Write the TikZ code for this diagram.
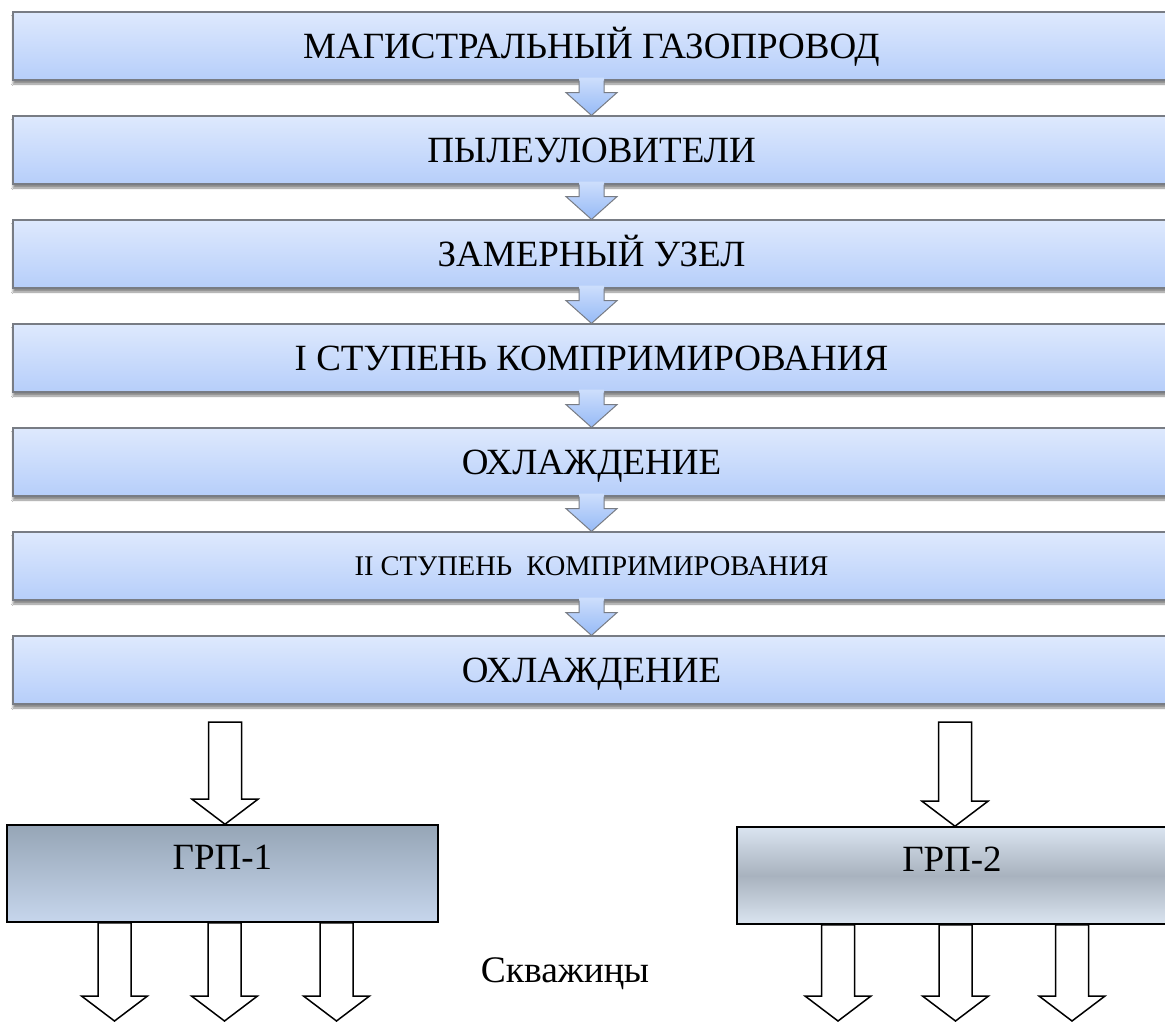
\documentclass[tikz,border=0pt]{standalone}
\usepackage{fontspec}
\setmainfont{Liberation Serif}
\usepackage{xcolor}
\usetikzlibrary{calc,shadows.blur}

\definecolor{stageTop}{RGB}{222,233,253}
\definecolor{stageBot}{RGB}{182,206,250}
\definecolor{stageLine}{RGB}{120,124,132}
\definecolor{arrowTop}{RGB}{205,222,252}
\definecolor{arrowBot}{RGB}{150,186,246}
\definecolor{grpDark}{RGB}{150,165,182}
\definecolor{grpLight}{RGB}{198,214,236}
\definecolor{metalLight}{RGB}{218,228,240}
\definecolor{metalDark}{RGB}{168,178,190}

\newcommand{\stagearrow}[2]{%
\path[arrowfill] let \p1=(#1.south), \p2=(#2.north) in
  (\x1-12.5pt,\y1+3pt) -- (\x1-12.5pt,\y1-12pt) -- (\x1-25.5pt,\y1-12pt) -- (\x2,\y2)
  -- (\x1+25.5pt,\y1-12pt) -- (\x1+12.5pt,\y1-12pt) -- (\x1+12.5pt,\y1+3pt) -- cycle;
\draw[arrowline] let \p1=(#1.south), \p2=(#2.north) in
  (\x1-12.5pt,\y1) -- (\x1-12.5pt,\y1-12pt) -- (\x1-25.5pt,\y1-12pt) -- (\x2,\y2)
  -- (\x1+25.5pt,\y1-12pt) -- (\x1+12.5pt,\y1-12pt) -- (\x1+12.5pt,\y1);}

\newcommand{\flowarrow}[2]{%
\draw[flowarrow] let \p1=(#1), \p2=(#2) in
  (\x1-16.5pt,\y1) -- (\x1-16.5pt,\y2+25pt) -- (\x1-33pt,\y2+25pt) -- (\x2,\y2)
  -- (\x1+33pt,\y2+25pt) -- (\x1+16.5pt,\y2+25pt) -- (\x1+16.5pt,\y1) -- cycle;}

\begin{document}
\begin{tikzpicture}[x=1pt,y=-1pt,
  stage/.style={draw=stageLine,line width=1.2pt,top color=stageTop,bottom color=stageBot,
    minimum width=1157pt,minimum height=68pt,inner sep=0pt,text height=24.5pt,text depth=0pt,
    font=\fontsize{37}{41}\selectfont,
    blur shadow={shadow xshift=0pt,shadow yshift=-4pt,shadow blur steps=6,shadow opacity=45}},
  arrowfill/.style={top color=arrowTop,bottom color=arrowBot},
  arrowline/.style={draw=stageLine,line width=1pt,line join=miter},
  grp/.style={draw=black,line width=1.6pt,minimum width=431pt,minimum height=97pt,inner sep=0pt,
    text height=24.5pt,text depth=33pt,font=\fontsize{37}{41}\selectfont},
  flowarrow/.style={draw=black,fill=white,line width=1.5pt,line join=miter}]
\clip (0,0) rectangle (1165,1021);
\fill[white] (0,0) rectangle (1165,1021);
\node[stage] (b1) at (591.5,46) {МАГИСТРАЛЬНЫЙ ГАЗОПРОВОД};
\node[stage] (b2) at (591.5,150) {ПЫЛЕУЛОВИТЕЛИ};
\node[stage] (b3) at (591.5,254) {ЗАМЕРНЫЙ УЗЕЛ};
\node[stage] (b4) at (591.5,358) {I СТУПЕНЬ КОМПРИМИРОВАНИЯ};
\node[stage] (b5) at (591.5,462) {ОХЛАЖДЕНИЕ};
\node[stage,font=\fontsize{28.5}{32}\selectfont,text height=18.5pt] (b6) at (591.5,566) {II СТУПЕНЬ~ КОМПРИМИРОВАНИЯ};
\node[stage] (b7) at (591.5,670) {ОХЛАЖДЕНИЕ};
\stagearrow{b1}{b2}
\stagearrow{b2}{b3}
\stagearrow{b3}{b4}
\stagearrow{b4}{b5}
\stagearrow{b5}{b6}
\stagearrow{b6}{b7}
\node[grp,top color=grpDark,bottom color=grpLight] (grp1) at (222.5,873.5) {ГРП-1};
\node[grp,top color=metalLight,bottom color=metalLight,middle color=metalDark,minimum width=430pt] (grp2) at (952,875.5) {ГРП-2};
\coordinate (in1) at (225,722);
\coordinate (in2) at (955,722);
\flowarrow{in1}{grp1.north -| in1}
\flowarrow{in2}{grp2.north -| in2}
\coordinate (w1) at (114.5,1021);
\coordinate (w2) at (224.5,1021);
\coordinate (w3) at (336.5,1021);
\coordinate (w4) at (838,1021);
\coordinate (w5) at (955.5,1021);
\coordinate (w6) at (1072,1021);
\flowarrow{grp1.south -| w1}{w1}
\flowarrow{grp1.south -| w2}{w2}
\flowarrow{grp1.south -| w3}{w3}
\flowarrow{grp2.south -| w4}{w4}
\flowarrow{grp2.south -| w5}{w5}
\flowarrow{grp2.south -| w6}{w6}
\node[font=\fontsize{37.5}{41}\selectfont,text height=25pt,text depth=0pt,inner sep=0pt] (wells) at (565,970) {Скважиңы};
\end{tikzpicture}
\end{document}
